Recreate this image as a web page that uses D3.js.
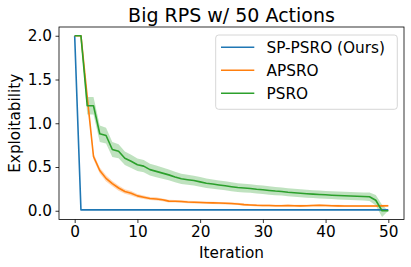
<!DOCTYPE html>
<html>
<head>
<meta charset="utf-8">
<script src="https://cdn.jsdelivr.net/npm/d3@7"></script>
<style>
  html, body { margin: 0; padding: 0; background: #fff; }
  svg { display: block; font-family: "DejaVu Sans", sans-serif; }
</style>
</head>
<body>
<svg id="chart" width="411" height="267"></svg>
<script>
// ---- data ----
const iterations = d3.range(0, 51);

const spPsro = [2.0, 0.01, 0.01, 0.01, 0.01, 0.01, 0.01, 0.01, 0.01, 0.01,
  0.01, 0.01, 0.01, 0.01, 0.01, 0.01, 0.01, 0.01, 0.01, 0.01,
  0.01, 0.01, 0.01, 0.01, 0.01, 0.01, 0.01, 0.01, 0.01, 0.01,
  0.01, 0.01, 0.01, 0.01, 0.01, 0.01, 0.01, 0.01, 0.01, 0.01,
  0.01, 0.01, 0.01, 0.01, 0.01, 0.01, 0.01, 0.01, 0.01, 0.01, 0.01];

const apsro = [2.0, 2.0, 1.3, 0.62, 0.46, 0.37, 0.31, 0.26, 0.22, 0.2,
  0.17, 0.155, 0.14, 0.135, 0.125, 0.11, 0.108, 0.105, 0.1, 0.097,
  0.095, 0.092, 0.09, 0.088, 0.085, 0.082, 0.078, 0.07, 0.066, 0.062,
  0.06, 0.06, 0.058, 0.058, 0.06, 0.058, 0.056, 0.058, 0.06, 0.062,
  0.06, 0.058, 0.056, 0.055, 0.055, 0.055, 0.054, 0.054, 0.055, 0.056, 0.057];
const apsroSpread = [0, 0, 0.04, 0.035, 0.035, 0.035, 0.03, 0.03, 0.025, 0.025,
  0.022, 0.02, 0.018, 0.018, 0.016, 0.015, 0.015, 0.014, 0.014, 0.014,
  0.013, 0.013, 0.013, 0.013, 0.013, 0.013, 0.013, 0.012, 0.012, 0.012,
  0.012, 0.012, 0.012, 0.012, 0.012, 0.012, 0.012, 0.012, 0.012, 0.012,
  0.012, 0.012, 0.012, 0.012, 0.012, 0.012, 0.012, 0.012, 0.012, 0.012, 0.012];

const psro = [2.0, 2.0, 1.2, 1.2, 0.88, 0.86, 0.7, 0.68, 0.6, 0.565,
  0.525, 0.51, 0.47, 0.45, 0.43, 0.41, 0.385, 0.365, 0.355, 0.345,
  0.33, 0.315, 0.305, 0.295, 0.285, 0.275, 0.265, 0.26, 0.255, 0.245,
  0.24, 0.232, 0.225, 0.22, 0.212, 0.206, 0.2, 0.195, 0.19, 0.186,
  0.182, 0.178, 0.175, 0.172, 0.169, 0.166, 0.163, 0.16, 0.12, 0.0, 0.0];
const psroSpread = [0, 0, 0.1, 0.1, 0.095, 0.09, 0.085, 0.08, 0.078, 0.075,
  0.072, 0.07, 0.068, 0.066, 0.064, 0.062, 0.06, 0.058, 0.057, 0.056,
  0.055, 0.054, 0.053, 0.052, 0.052, 0.051, 0.05, 0.05, 0.049, 0.049,
  0.048, 0.048, 0.047, 0.047, 0.046, 0.046, 0.046, 0.045, 0.045, 0.045,
  0.045, 0.045, 0.045, 0.045, 0.045, 0.045, 0.045, 0.048, 0.06, 0.07, 0];

const xTicks = [0, 10, 20, 30, 40, 50];
const yTicks = [0.0, 0.5, 1.0, 1.5, 2.0];

const seriesNames = ['SP-PSRO (Ours)', 'APSRO', 'PSRO'];
const seriesColors = ['#1f77b4', '#ff7f0e', '#2ca02c'];

// ---- layout ----
const svg = d3.select('#chart');
const plotLeft = 59, plotRight = 404, plotTop = 27, plotBottom = 219.5;

const x = d3.scaleLinear().domain([-2.5, 52.5]).range([plotLeft, plotRight]);
const y = d3.scaleLinear().domain([-0.1, 2.1]).range([plotBottom, plotTop]);

const clip = svg.append('defs').append('clipPath').attr('id', 'plot-clip');
clip.append('rect').attr('x', plotLeft).attr('y', plotTop)
  .attr('width', plotRight - plotLeft).attr('height', plotBottom - plotTop);

const plot = svg.append('g').attr('clip-path', 'url(#plot-clip)');

// bands
function band(values, spread, color) {
  const area = d3.area()
    .x((d, i) => x(iterations[i]))
    .y0((d, i) => y(values[i] - spread[i]))
    .y1((d, i) => y(values[i] + spread[i]));
  plot.append('path').datum(values)
    .attr('d', area)
    .attr('fill', color)
    .attr('fill-opacity', 0.3);
}
band(apsro, apsroSpread, seriesColors[1]);
band(psro, psroSpread, seriesColors[2]);

// lines
const line = d3.line().x((d, i) => x(iterations[i])).y(d => y(d));
[spPsro, apsro, psro].forEach((vals, k) => {
  plot.append('path').datum(vals)
    .attr('d', line)
    .attr('fill', 'none')
    .attr('stroke', seriesColors[k])
    .attr('stroke-width', 1.6)
    .attr('stroke-linejoin', 'round');
});

// axes
const xAxis = svg.append('g').attr('transform', `translate(0,${plotBottom})`)
  .call(d3.axisBottom(x).tickValues(xTicks).tickFormat(d3.format('d'))
    .tickSize(3.5).tickPadding(3.5));
const yAxis = svg.append('g').attr('transform', `translate(${plotLeft},0)`)
  .call(d3.axisLeft(y).tickValues(yTicks).tickFormat(d3.format('.1f'))
    .tickSize(3.5).tickPadding(3.5));

[xAxis, yAxis].forEach(g => {
  g.select('.domain').remove();
  g.selectAll('line').attr('stroke', '#000').attr('stroke-width', 0.8);
  g.selectAll('text').attr('fill', '#000')
    .style('font-family', '"DejaVu Sans", sans-serif')
    .style('font-size', '15.3px');
});

// frame
svg.append('rect')
  .attr('x', plotLeft).attr('y', plotTop)
  .attr('width', plotRight - plotLeft).attr('height', plotBottom - plotTop)
  .attr('fill', 'none').attr('stroke', '#000').attr('stroke-width', 0.8);

// labels
svg.append('text').attr('x', (plotLeft + plotRight) / 2).attr('y', 21.7)
  .attr('text-anchor', 'middle').style('font-size', '19px')
  .text('Big RPS w/ 50 Actions');

svg.append('text').attr('x', (plotLeft + plotRight) / 2).attr('y', 257.5)
  .attr('text-anchor', 'middle').style('font-size', '15.3px')
  .text('Iteration');

svg.append('text')
  .attr('transform', `translate(20,${(plotTop + plotBottom) / 2}) rotate(-90)`)
  .attr('text-anchor', 'middle').style('font-size', '15.3px')
  .text('Exploitability');

// legend
const legend = svg.append('g');
legend.append('rect')
  .attr('x', 215.7).attr('y', 35).attr('width', 181.6).attr('height', 74.3)
  .attr('rx', 3).attr('fill', '#fff').attr('fill-opacity', 0.8)
  .attr('stroke', '#cccccc').attr('stroke-width', 0.8);

seriesNames.forEach((name, k) => {
  const ry = 47.3 + k * 23;
  legend.append('line')
    .attr('x1', 221).attr('x2', 254.3).attr('y1', ry).attr('y2', ry)
    .attr('stroke', seriesColors[k]).attr('stroke-width', 1.6);
  legend.append('text')
    .attr('x', 266.5).attr('y', ry + 5.6)
    .style('font-size', '15.3px')
    .text(name);
});
</script>
</body>
</html>
